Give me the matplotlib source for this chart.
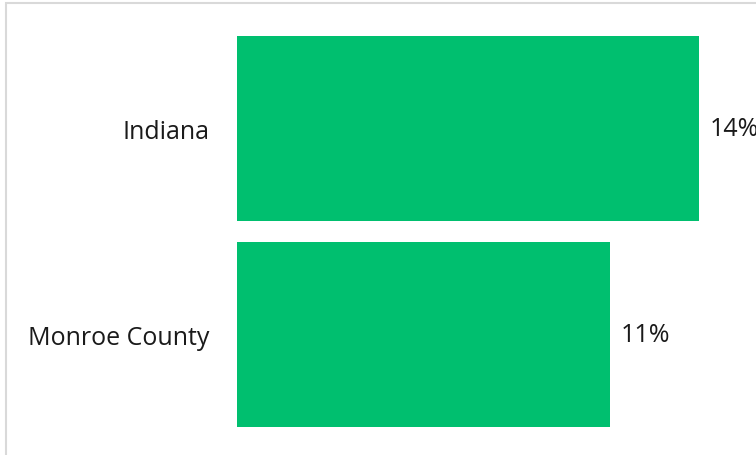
import matplotlib
matplotlib.use("Agg")
import matplotlib.pyplot as plt
from matplotlib.patches import Rectangle

# data
regions = ["Monroe County", "Indiana"]
shares = [11.3, 14.0]
share_labels = ["11%", "14%"]

plt.rcParams['font.family'] = ['Open Sans', 'DejaVu Sans']

W, H = 756, 456
fig = plt.figure(figsize=(W / 100, H / 100), dpi=100)

# light grey frame around the chart area (runs off the right/bottom edge)
fig.patches.append(Rectangle((5.5 / W, -0.05), 1.1, 1 - 3.5 / H + 0.05,
                             transform=fig.transFigure, fill=False,
                             edgecolor="#d9d9d9", linewidth=1.5))

ax = fig.add_axes([237 / W, 1 - 438 / H, (699 - 237) / W, (438 - 27) / H])
ypos = list(range(len(regions)))
bars = ax.barh(ypos, shares, height=0.9, color="#00bf6f")
ax.set_xlim(0, 14)
ax.set_ylim(-0.5, 1.5)

ax.set_yticks(ypos)
ax.set_yticklabels(regions, fontsize=18, color="#1a1a1a")
ax.tick_params(axis="y", length=0, pad=20)
ax.set_xticks([])
for s in ax.spines.values():
    s.set_visible(False)

for b, lab in zip(bars, share_labels):
    ax.text(b.get_width() + 0.33, b.get_y() + b.get_height() / 2, lab,
            va="center", ha="left", fontsize=18, color="#1a1a1a", clip_on=False)

fig.savefig("out.png", dpi=100)
